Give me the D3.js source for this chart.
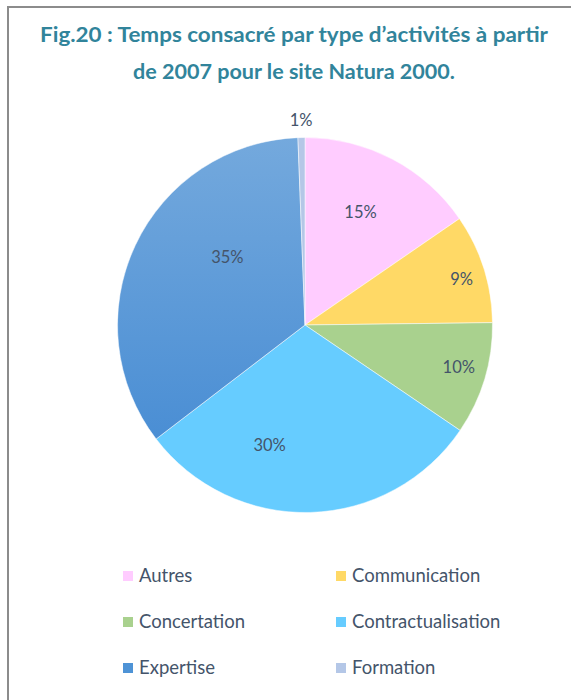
<!DOCTYPE html>
<html><head><meta charset="utf-8">
<script src="https://cdn.jsdelivr.net/npm/d3@7"></script>
<style>body{margin:0;background:#fff;}svg{display:block;}</style>
</head><body>
<svg id="c" width="571" height="700"></svg>
<script>
const categories = ["Autres","Communication","Concertation","Contractualisation","Expertise","Formation"];
const values = [15.4, 9.4, 9.7, 30.1, 34.8, 0.6];
const colors = ["#ffccff","#ffd966","#a9d18e","#66ccff","#4e93d6","#b4c7e7"];
const titleLines = ["Fig.20 : Temps consacré par type d’activités à partir","de 2007 pour le site Natura 2000."];

const svg = d3.select("#c");
const font = "Lato, 'Open Sans', sans-serif";

// frame
svg.append("rect").attr("x",8).attr("y",7).attr("width",600).attr("height",720)
  .attr("fill","none").attr("stroke","#8c8c8c").attr("stroke-width",2);

// gradient for Expertise
const defs = svg.append("defs");
const g = defs.append("linearGradient").attr("id","gExp").attr("x1",0).attr("y1",0).attr("x2",0).attr("y2",1);
g.append("stop").attr("offset","0%").attr("stop-color","#74a9dd");
g.append("stop").attr("offset","100%").attr("stop-color","#4a8ed4");

// title
svg.append("g").selectAll("text").data(titleLines).join("text")
  .attr("x",294).attr("y",(d,i)=>42+i*37)
  .attr("text-anchor","middle").attr("font-family",font).attr("font-weight","bold")
  .attr("font-size",21).attr("fill","#31849b")
  .attr("textLength",(d,i)=>i===0?508:322).attr("lengthAdjust","spacingAndGlyphs")
  .text(d=>d);

// pie
const cx=305, cy=325, r=187.5;
const data = categories.map((c,i)=>({cat:c,value:values[i],color:colors[i]}));
const pie = d3.pie().value(d=>d.value).sort(null);
const arcs = pie(data);
const arc = d3.arc().innerRadius(0).outerRadius(r);
const pg = svg.append("g").attr("transform",`translate(${cx},${cy})`);
pg.selectAll("path").data(arcs).join("path")
  .attr("d",arc)
  .attr("fill",d=>d.data.cat==="Expertise"?"url(#gExp)":d.data.color)
  .attr("stroke","#ffffff").attr("stroke-width",0.5);

// label placement (layout: radius fraction and angular shift in degrees, "best fit" style)
const labelLayout = {
  "Autres":[0.67,-1.5], "Communication":[0.87,1.5], "Concertation":[0.85,-1.5],
  "Contractualisation":[0.67,18], "Expertise":[0.55,16], "Formation":[1.09,0]
};
const total = d3.sum(values);
pg.selectAll("text").data(arcs).join("text")
  .attr("transform",d=>{
    const [f,shift] = labelLayout[d.data.cat];
    const mid = (d.startAngle+d.endAngle)/2 + shift*Math.PI/180;
    const p = d3.arc().innerRadius(r*f).outerRadius(r*f).startAngle(mid).endAngle(mid).centroid();
    return `translate(${p[0]},${p[1]})`;
  })
  .attr("text-anchor","middle").attr("dy","0.35em")
  .attr("font-family",font).attr("font-size",16.5).attr("fill","#44546a")
  .text(d=>Math.round(d.data.value/total*100)+"%");

// legend
const lg = svg.append("g");
const item = lg.selectAll("g").data(categories).join("g")
  .attr("transform",(d,i)=>`translate(${123+(i%2)*213},${576+Math.floor(i/2)*46})`);
item.append("rect").attr("x",0).attr("y",-5).attr("width",10).attr("height",10)
  .attr("fill",(d,i)=>colors[i]);
item.append("text").attr("x",16).attr("y",0).attr("dy","0.35em")
  .attr("font-family",font).attr("font-size",18.5).attr("fill","#44546a")
  .text(d=>d);
</script>
</body></html>
